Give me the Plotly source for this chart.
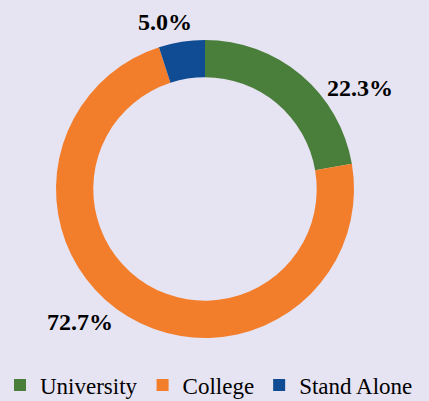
import plotly.graph_objects as go

labels = ["University", "College", "Stand Alone"]
values = [22.3, 72.7, 5.0]
colors = ["#4A7E3B", "#F27D2A", "#0F4C93"]
label_pos = [(360, 88), (80, 322), (165, 22)]  # pixel centres of percentage labels

W, H = 429, 401
fig = go.Figure(go.Pie(
    labels=labels, values=values, hole=0.75, sort=False, direction="clockwise",
    rotation=0, marker=dict(colors=colors, line=dict(width=0)),
    textinfo="none", hoverinfo="label+percent",
    domain=dict(x=[(205-150)/W, (205+150)/W], y=[1-338/H, 1-40/H]),
))
for v, (px, py) in zip(values, label_pos):
    fig.add_annotation(x=px/W, y=1-py/H, xref="paper", yref="paper",
                       xanchor="center", yanchor="middle",
                       text=f"<b>{v:.1f}%</b>", showarrow=False,
                       font=dict(family="Liberation Serif", size=24, color="#000000"))
fig.update_layout(
    width=W, height=H, margin=dict(l=0, r=0, t=0, b=0, autoexpand=False),
    paper_bgcolor="#E6E3F2", plot_bgcolor="#E6E3F2",
    showlegend=True,
    legend=dict(orientation="h", x=0, xanchor="left", y=1-385/H, yanchor="middle",
                font=dict(family="Liberation Serif", size=23, color="#000000"),
                itemwidth=30, bgcolor="rgba(0,0,0,0)"),
)
fig.write_html("out.html", config={"displayModeBar": False},
               post_script="document.body.style.margin='0';document.body.style.overflow='hidden';")
